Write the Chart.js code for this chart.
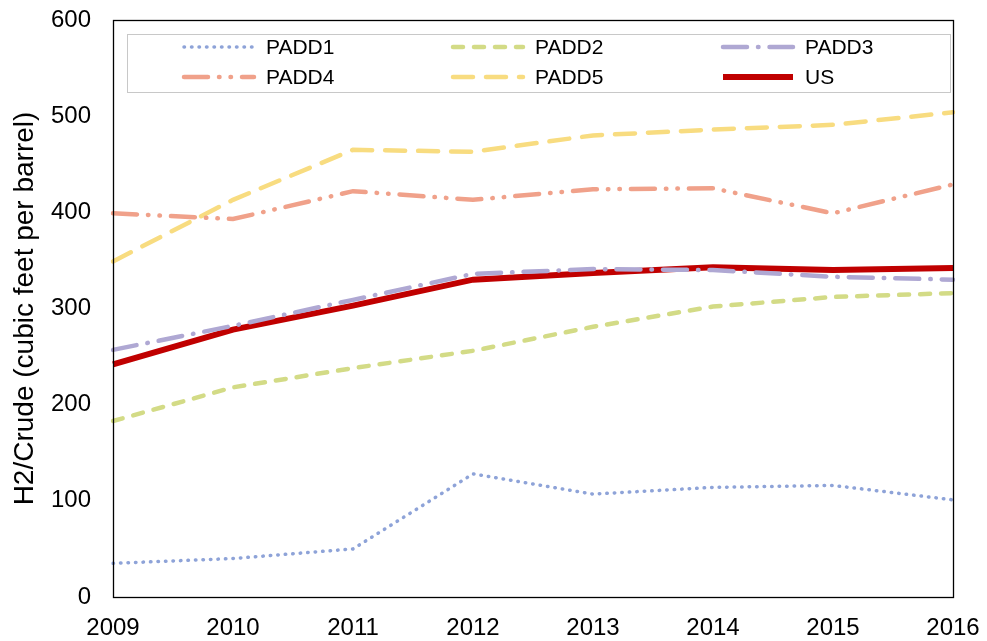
<!DOCTYPE html>
<html>
<head>
<meta charset="utf-8">
<script src="https://cdn.jsdelivr.net/npm/chart.js@4.4.1/dist/chart.umd.min.js"></script>
<style>
  html, body { margin: 0; padding: 0; background: #fff; }
  #wrap { width: 987px; height: 641px; }
</style>
</head>
<body>
<div id="wrap"><canvas id="grafH2"></canvas></div>
<script>
//-> dados
const anos = ['2009', '2010', '2011', '2012', '2013', '2014', '2015', '2016'];
const padd1 = [35, 40, 50, 128, 107, 114, 116, 101];
const padd2 = [183, 218, 238, 256, 281, 302, 312, 316];
const padd3 = [257, 282, 309, 336, 341, 340, 333, 330];
const padd4 = [399, 393, 422, 413, 424, 425, 399, 429];
const padd5 = [349, 413, 465, 463, 480, 486, 491, 504];
const us = [242, 278, 303, 330, 337, 343, 340, 342];
const yTicks = [0, 100, 200, 300, 400, 500, 600];

const fonte = "'Liberation Sans', Arial, sans-serif";

function serie(label, data, cor, largura, tracos) {
   return {
      label: label,
      data: data,
      borderColor: cor,
      backgroundColor: cor,
      borderWidth: largura,
      borderDash: tracos,
      borderCapStyle: tracos.length ? 'round' : 'butt',
      pointRadius: 0,
      tension: 0,
      fill: false
   };
}

const datasets = [
   serie('PADD1', padd1, '#8ea3d8', 3.5, [0.5, 7]),
   serie('PADD2', padd2, '#d3db86', 4.5, [10, 11]),
   serie('PADD3', padd3, '#afa8d3', 4.5, [24, 11, 0.5, 11]),
   serie('PADD4', padd4, '#f0a18a', 4.5, [24, 11, 0.5, 11, 0.5, 11]),
   serie('PADD5', padd5, '#f8dc80', 4.5, [20, 13]),
   serie('US', us, '#c00000', 6, [])
];

//-> moldura da área e legenda interna
const molduraLegenda = {
   id: 'molduraLegenda',
   afterDraw(chart) {
      const ctx = chart.ctx;
      const a = chart.chartArea;
      ctx.save();
      ctx.strokeStyle = '#000';
      ctx.lineWidth = 1.3;
      ctx.strokeRect(a.left + 0.5, a.top + 0.5, a.right - a.left, a.bottom - a.top);

      // caixa da legenda
      ctx.fillStyle = '#fff';
      ctx.fillRect(127, 34, 823, 58);
      ctx.lineWidth = 1;
      ctx.strokeStyle = '#c8c8c8';
      ctx.strokeRect(127.5, 34.5, 823, 58);

      const colX = [184, 453, 723];
      const rowY = [47, 77];
      ctx.font = '21px ' + fonte;
      ctx.textBaseline = 'middle';
      chart.data.datasets.forEach((ds, i) => {
         const x = colX[i % 3];
         const y = rowY[Math.floor(i / 3)];
         ctx.beginPath();
         ctx.strokeStyle = ds.borderColor;
         ctx.lineWidth = ds.borderWidth;
         ctx.setLineDash(ds.borderDash);
         ctx.lineCap = ds.borderCapStyle;
         ctx.moveTo(x, y);
         ctx.lineTo(x + 70, y);
         ctx.stroke();
         ctx.setLineDash([]);
         ctx.fillStyle = '#000';
         ctx.fillText(ds.label, x + 82, y + 1);
      });
      ctx.restore();
   }
};

var grafH2 = new Chart(document.getElementById('grafH2').getContext('2d'), {
   type: 'line',
   data: { labels: anos, datasets: datasets },
   options: {
      responsive: true,
      maintainAspectRatio: false,
      animation: false,
      layout: { padding: { top: 20, right: 34, left: 0, bottom: 0 } },
      plugins: { legend: { display: false }, tooltip: { enabled: false } },
      scales: {
         x: {
            grid: { display: false, drawTicks: false },
            border: { display: false },
            ticks: { color: '#000', font: { family: fonte, size: 24 }, padding: 17, maxRotation: 0, autoSkip: false },
            afterFit(s) { s.height = 44; s.paddingLeft = 0; s.paddingRight = 0; }
         },
         y: {
            min: 0,
            max: 600,
            afterBuildTicks(s) { s.ticks = yTicks.map(v => ({ value: v })); },
            grid: { display: false, drawTicks: false },
            border: { display: false },
            ticks: { color: '#000', font: { family: fonte, size: 24 }, padding: 22 },
            title: {
               display: true,
               text: 'H2/Crude (cubic feet per barrel)',
               color: '#000',
               font: { family: fonte, size: 28 },
               padding: { top: 8, bottom: 0 }
            },
            afterFit(s) { s.width = 113; s.paddingTop = 0; s.paddingBottom = 0; }
         }
      }
   },
   plugins: [molduraLegenda]
});
</script>
</body>
</html>
